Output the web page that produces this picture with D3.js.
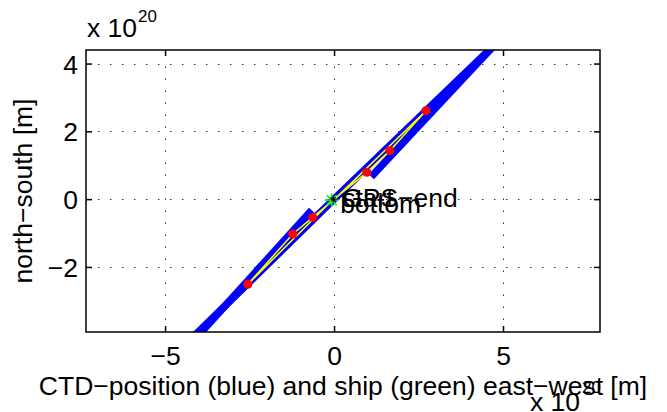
<!DOCTYPE html>
<html><head><meta charset="utf-8">
<script src="https://cdn.jsdelivr.net/npm/d3@7"></script>
<style>body{margin:0;background:#fff}svg{display:block}text{font-family:"Liberation Sans",Arial,sans-serif}</style>
</head><body><svg id="c" width="667" height="412"></svg>
<script>
// values in units of 1e20 m
const xTicks = [-5, 0, 5];
const yTicks = [-2, 0, 2, 4];
const xDomain = [-7.34, 7.87];
const yDomain = [-3.92, 4.40];
// CTD track segments (blue)
const ctdMain = [[-4.15, -4.05], [0, 0], [4.75, 4.55]];
const ctdLower = [[-4.0, -4.0], [-0.66, -0.33]];
const ctdUpper = [[1.1, 0.66], [4.85, 4.66]];
// station dots (red)
const dotX = [-2.55, -1.22, -0.63, 0.97, 1.65, 2.72];
const dotY = [-2.51, -1.03, -0.54, 0.79, 1.43, 2.61];
// yellow path through dots
const shipPath = [[0, 0], [0.97, 0.79], [1.65, 1.43], [2.72, 2.61], [0.05, 0.03], [-0.63, -0.54], [-1.22, -1.03], [-2.55, -2.51], [0, 0.02]];
// ship GPS position (green star)
const gpsX = [-0.07];
const gpsY = [-0.03];
const labels = ["GPS\u2212end", "start", "bottom"];
const labelX = [0.24, 0.24, 0.18];
const labelY = [-0.24, -0.24, -0.40];

const svg = d3.select("#c");
const L = 86, R = 600, T = 50, B = 332;
const x = d3.scaleLinear().domain(xDomain).range([L, R]);
const y = d3.scaleLinear().domain(yDomain).range([B, T]);
const FS = 26.5;

svg.append("defs").append("clipPath").attr("id", "clip")
  .append("rect").attr("x", L).attr("y", T).attr("width", R - L).attr("height", B - T);

// grid
const grid = svg.append("g").attr("stroke", "#333").attr("stroke-width", 1).attr("stroke-dasharray", "1.5,10.5");
grid.selectAll(".gx").data(xTicks).join("line")
  .attr("x1", d => Math.round(x(d)) + 0.5).attr("x2", d => Math.round(x(d)) + 0.5).attr("y1", B).attr("y2", T);
grid.selectAll(".gy").data(yTicks).join("line")
  .attr("y1", d => Math.round(y(d)) + 0.5).attr("y2", d => Math.round(y(d)) + 0.5).attr("x1", L).attr("x2", R);

const plot = svg.append("g").attr("clip-path", "url(#clip)");
const line = d3.line().x(d => x(d[0])).y(d => y(d[1]));
[ctdMain, ctdLower, ctdUpper].forEach(seg => {
  plot.append("path").attr("d", line(seg)).attr("fill", "none")
    .attr("stroke", "#0000ff").attr("stroke-width", 7.5).attr("stroke-linecap", "butt");
});
plot.append("path").attr("d", line(shipPath)).attr("fill", "none")
  .attr("stroke", "#ffff00").attr("stroke-width", 1.5);
plot.selectAll(".dot").data(dotX.map((d, i) => [d, dotY[i]])).join("circle")
  .attr("cx", d => x(d[0])).attr("cy", d => y(d[1])).attr("r", 4.5).attr("fill", "#ff0000");

// GPS star
const star = (g, cx, cy, r, col, w) => {
  for (let k = 0; k < 4; k++) {
    const a = k * Math.PI / 4;
    g.append("line").attr("x1", cx - r * Math.cos(a)).attr("y1", cy - r * Math.sin(a))
      .attr("x2", cx + r * Math.cos(a)).attr("y2", cy + r * Math.sin(a))
      .attr("stroke", col).attr("stroke-width", w);
  }
};
gpsX.forEach((gx, i) => {
  star(plot, x(gx), y(gpsY[i]), 7, "#00ff00", 1.5);
  plot.append("circle").attr("cx", x(gx) + 1).attr("cy", y(gpsY[i]) - 1).attr("r", 2).attr("fill", "#ff0000");
  star(plot, x(gx) + 2, y(gpsY[i]) - 1, 3, "#000", 1);
});

// labels
labels.forEach((t, i) => {
  svg.append("text").attr("x", x(labelX[i])).attr("y", y(labelY[i]))
    .attr("font-size", 26.5).attr("fill", "#000").text(t);
});

// axes box
svg.append("rect").attr("x", L).attr("y", T).attr("width", R - L).attr("height", B - T)
  .attr("fill", "none").attr("stroke", "#000").attr("stroke-width", 1.5);

// axes via d3
const fmt = d => d < 0 ? "\u2212" + Math.abs(d) : String(d);
const ax = svg.append("g").attr("transform", `translate(0,${B})`)
  .call(d3.axisBottom(x).tickValues(xTicks).tickSizeInner(-6).tickSizeOuter(0).tickFormat(fmt));
ax.select(".domain").remove();
ax.selectAll("text").attr("y", 33).attr("dy", 0).attr("font-size", FS).attr("fill", "#000");
ax.selectAll("line").attr("stroke-width", 1.5);
const axT = svg.append("g").attr("transform", `translate(0,${T})`)
  .call(d3.axisTop(x).tickValues(xTicks).tickSizeInner(-6).tickSizeOuter(0).tickFormat(""));
axT.select(".domain").remove();
axT.selectAll("line").attr("stroke-width", 1.5);
const ay = svg.append("g").attr("transform", `translate(${L},0)`)
  .call(d3.axisLeft(y).tickValues(yTicks).tickSizeInner(-6).tickSizeOuter(0).tickFormat(fmt));
ay.select(".domain").remove();
ay.selectAll("text").attr("x", -8).attr("dy", "0.36em").attr("font-size", FS).attr("fill", "#000");
ay.selectAll("line").attr("stroke-width", 1.5);
const ayR = svg.append("g").attr("transform", `translate(${R},0)`)
  .call(d3.axisRight(y).tickValues(yTicks).tickSizeInner(-6).tickSizeOuter(0).tickFormat(""));
ayR.select(".domain").remove();
ayR.selectAll("line").attr("stroke-width", 1.5);
svg.selectAll(".tick line").attr("stroke", "#000");

// axis labels
svg.append("text").attr("x", (L + R) / 2).attr("y", 395).attr("text-anchor", "middle")
  .attr("font-size", FS).text("CTD\u2212position (blue) and ship (green) east\u2212west [m]");
svg.append("text").attr("transform", `translate(32,${(T + B) / 2}) rotate(-90)`).attr("text-anchor", "middle")
  .attr("font-size", FS).text("north\u2212south [m]");

// exponent labels
const expo = (px, py, sx, sy) => {
  svg.append("text").attr("x", px).attr("y", py).attr("font-size", FS).text("x 10");
  svg.append("text").attr("x", sx).attr("y", sy).attr("font-size", 17).text("20");
};
expo(87, 37, 138, 22);
expo(530, 411, 582, 393);
</script></body></html>
